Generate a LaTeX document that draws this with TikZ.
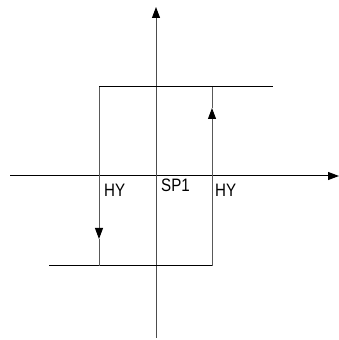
\documentclass[tikz,border=0pt]{standalone}
\usepackage{fontspec}
\setmainfont{Liberation Sans}
\usetikzlibrary{arrows.meta}
\newcommand{\narrow}[1]{\scalebox{0.84}[1]{#1}}
\begin{document}
\begin{tikzpicture}[x=1pt,y=1pt,
  axis/.style={line width=0.9pt,draw=black!70},
  hline/.style={line width=1pt,draw=black},
  vline/.style={line width=0.9pt,draw=black!65},
  tip/.style={-{Triangle[length=11pt,width=8pt,color=black,fill=black]}},
  lbl/.style={inner sep=0pt,anchor=north west,font=\fontsize{18}{18}\selectfont}]
\useasboundingbox (0,0) rectangle (339,340);
% axes
\coordinate (xl) at (10,164);
\coordinate (xr) at (339,164);
\coordinate (yb) at (156,2);
\coordinate (yt) at (156,333);
\draw[hline,tip] (xl) -- (xr);
\draw[axis,tip] (yb) -- (yt);
% loop corners
\coordinate (tl) at (99,253);
\coordinate (tr) at (273,253);
\coordinate (bl) at (49,74);
\coordinate (br) at (212,74);
\coordinate (lb) at (99,74);
\coordinate (rt) at (212,253);
\coordinate (ltip) at (99,101);
\coordinate (rtip) at (212,232);
\draw[hline] (tl) -- (tr);
\draw[hline] (bl) -- (br);
\draw[vline,tip] (tl) -- (ltip);
\draw[vline] (ltip) -- (lb);
\draw[vline,tip] (br) -- (rtip);
\draw[vline] (rtip) -- (rt);
% labels
\node[lbl] (hy1) at (104,156) {\narrow{HY}};
\node[lbl] (sp) at (161,161) {\narrow{SP1}};
\node[lbl] (hy2) at (215,156) {\narrow{HY}};
\end{tikzpicture}
\end{document}
